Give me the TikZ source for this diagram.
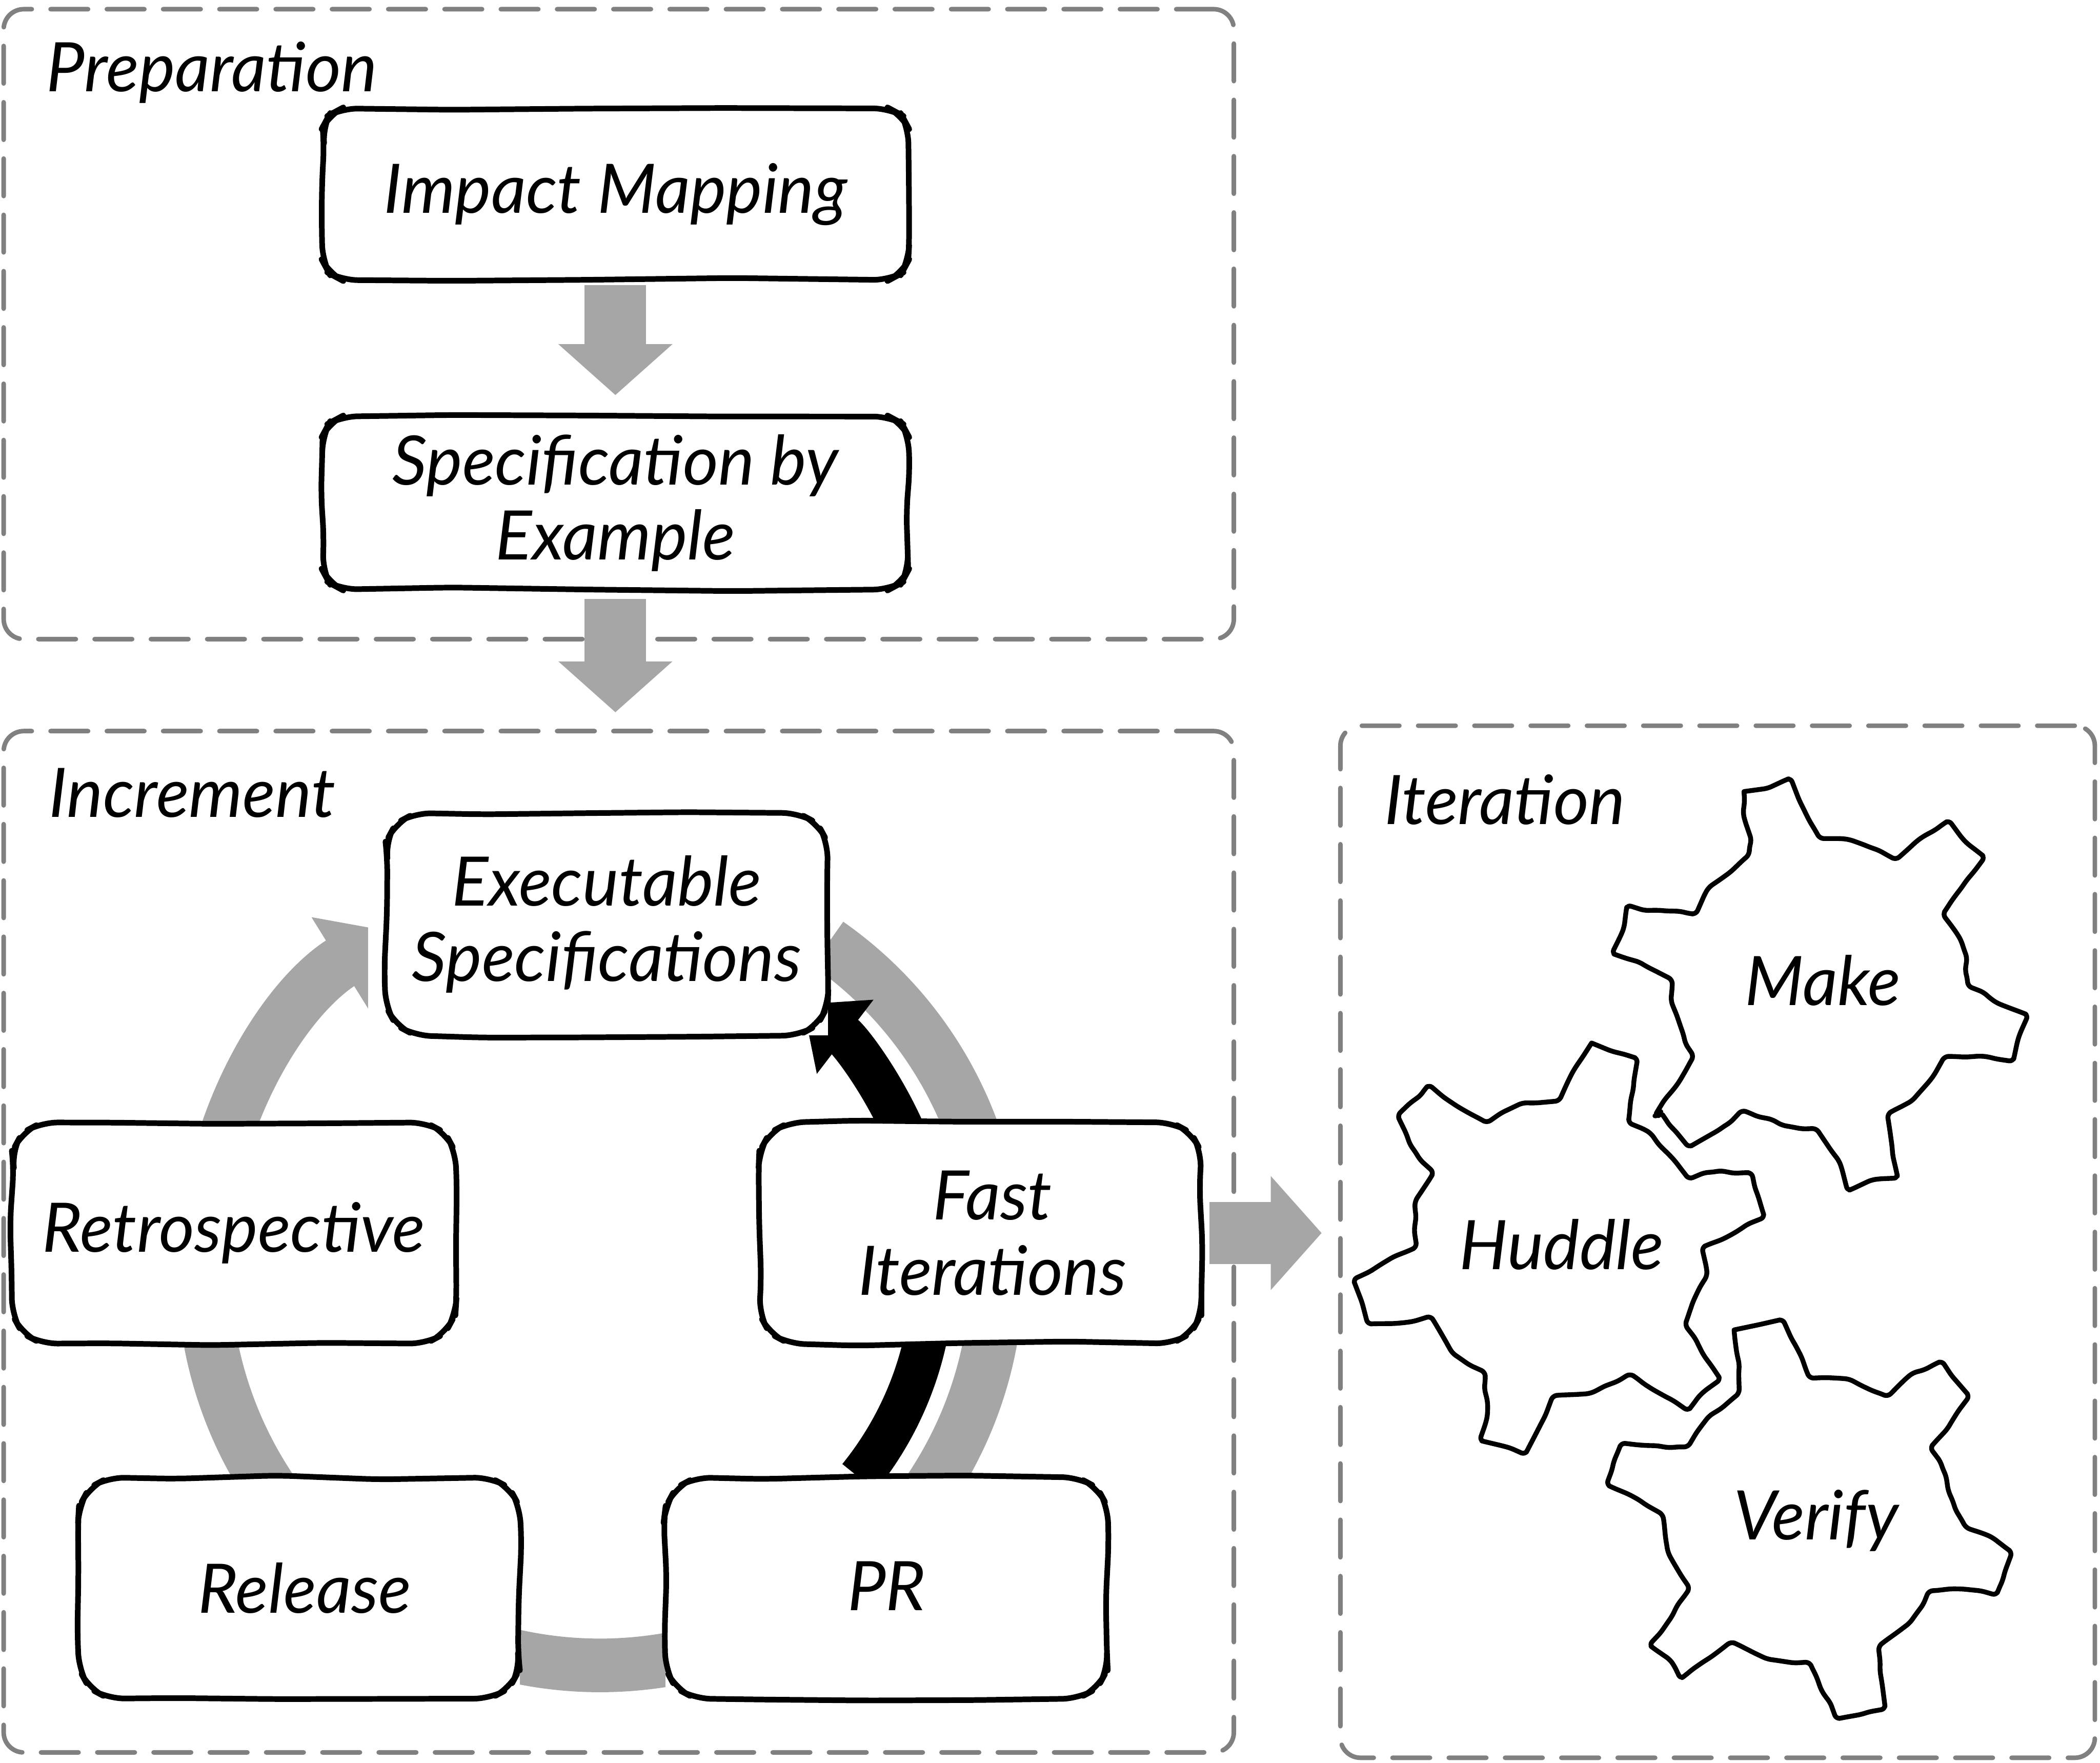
\documentclass[tikz,border=0pt]{standalone}
\usepackage{fontspec}
\setmainfont{Lato}
\usetikzlibrary{arrows.meta,backgrounds,decorations.pathmorphing,calc}
\definecolor{framegray}{HTML}{808080}
\definecolor{flowgray}{HTML}{A6A6A6}
\tikzset{
  x=0.01cm,y=-0.01cm,
  sketchbox/.style={fill=white,inner sep=0pt,outer sep=0pt,
    align=center,font=\fontsize{14.5}{16}\selectfont\itshape},
  sketchline/.style={draw=black,line width=.042cm,line join=round,line cap=round,rounded corners=.12cm},
  framebox/.style={draw=framegray,line width=.034cm,rounded corners=.15cm,inner sep=0pt,outer sep=0pt,
    dash pattern=on .28cm off .14cm,line cap=round},
  zonelabel/.style={font=\fontsize{14.5}{16}\selectfont\itshape,inner sep=0pt,anchor=west},
  gearlabel/.style={font=\fontsize{14.5}{16}\selectfont\itshape,inner sep=0pt},
  gearline/.style={draw=black,fill=white,line width=.036cm,line join=round,line cap=round,rounded corners=.03cm,
    decorate,decoration={random steps,segment length=.1cm,amplitude=.012cm}},
  blockflow/.style={draw=flowgray,line width=.46cm,-{Triangle[length=.38cm,width=.83cm,fill=flowgray]}},
  ringflow/.style={draw=flowgray,line width=.4cm,-{Triangle[length=.45cm,width=.78cm,fill=flowgray]}},
  fastflow/.style={draw=black,line width=.32cm,-{Triangle[length=.4cm,width=.67cm,fill=black]}},
  gearscope/.style={shift={(990,535)},x=0.003695cm,y=-0.00499cm},
}
% hand-drawn outline round a named box: #1 node name, #2 corner chamfer in picture units
\newcommand{\sketchoutline}[2]{%
  \draw[sketchline]
    ($(#1.north west)+(#2,0)$)
    -- ($(#1.north west)!.22!(#1.north east)+(0,{1.6*rand})$)
    -- ($(#1.north west)!.45!(#1.north east)+(0,{1.6*rand})$)
    -- ($(#1.north west)!.68!(#1.north east)+(0,{1.6*rand})$)
    -- ($(#1.north east)+(-#2,0)$)
    -- ($(#1.north east)+(-#2*.35,#2*.35)$)
    -- ($(#1.north east)+(0,#2)$)
    -- ($(#1.north east)!.3!(#1.south east)+({1.6*rand},0)$)
    -- ($(#1.north east)!.55!(#1.south east)+({1.6*rand},0)$)
    -- ($(#1.north east)!.8!(#1.south east)+({1.6*rand},0)$)
    -- ($(#1.south east)+(0,-#2)$)
    -- ($(#1.south east)+(-#2*.35,-#2*.35)$)
    -- ($(#1.south east)+(-#2,0)$)
    -- ($(#1.south east)!.3!(#1.south west)+(0,{1.6*rand})$)
    -- ($(#1.south east)!.55!(#1.south west)+(0,{1.6*rand})$)
    -- ($(#1.south east)!.78!(#1.south west)+(0,{1.6*rand})$)
    -- ($(#1.south west)+(#2,0)$)
    -- ($(#1.south west)+(#2*.35,-#2*.35)$)
    -- ($(#1.south west)+(0,-#2)$)
    -- ($(#1.south west)!.3!(#1.north west)+({1.6*rand},0)$)
    -- ($(#1.south west)!.55!(#1.north west)+({1.6*rand},0)$)
    -- ($(#1.south west)!.8!(#1.north west)+({1.6*rand},0)$)
    -- ($(#1.north west)+(0,#2)$)
    -- ($(#1.north west)+(#2*.35,#2*.35)$)
    -- cycle;}
\begin{document}
\begin{tikzpicture}
\pgfmathsetseed{4242}
\useasboundingbox (0,0) rectangle (1568,1316);

\begin{scope}[on background layer]
  \fill[white] (0,0) rectangle (1568,1316);
  \node[framebox,minimum width=9.18cm,minimum height=4.70cm] (preparation) at (462,242) {};
  \node[framebox,minimum width=9.18cm,minimum height=7.62cm] (increment) at (462,927) {};
  \node[framebox,minimum width=5.63cm,minimum height=7.70cm] (iteration) at (1282.5,927) {};
\end{scope}

\node[zonelabel] (preplabel) at (34,54) {Preparation};
\node[zonelabel] (inclabel) at (36,592) {Increment};
\node[zonelabel] (iterlabel) at (1033,597) {Iteration};

\node[sketchbox,minimum width=4.37cm,minimum height=1.28cm] (impact) at (459.5,145) {\raisebox{-.03cm}{Impact Mapping}};
\node[sketchbox,minimum width=4.37cm,minimum height=1.29cm] (spec) at (459.5,375.5) {\raisebox{-.03cm}{Specification by}\\\raisebox{-.03cm}{Example}};
\node[sketchbox,minimum width=3.30cm,minimum height=1.66cm] (exec) at (453,690) {Executable\\Specifications};
\node[sketchbox,minimum width=3.31cm,minimum height=1.65cm] (retro) at (174.5,920.5) {\raisebox{-.03cm}{Retrospective}};
\node[sketchbox,minimum width=3.30cm,minimum height=1.65cm] (fast) at (732,920.5) {\hspace*{.18cm}Fast\\\hspace*{.18cm}Iterations};
\node[sketchbox,minimum width=3.29cm,minimum height=1.65cm] (release) at (223.5,1185.5) {\hspace*{.08cm}Release};
\node[sketchbox,minimum width=3.30cm,minimum height=1.65cm] (pr) at (662,1185.5) {\raisebox{.03cm}{PR}};

\sketchoutline{impact}{14}
\sketchoutline{spec}{14}
\sketchoutline{exec}{22}
\sketchoutline{retro}{22}
\sketchoutline{fast}{22}
\sketchoutline{release}{22}
\sketchoutline{pr}{22}

\begin{scope}[on background layer]
  \draw[blockflow,shorten <=.04cm,shorten >=.16cm] (impact.south) -- (spec.north);
  \draw[blockflow,shorten <=.07cm,shorten >=.14cm] (spec.south) -- (increment.north -| spec.south);
  \draw[blockflow,shorten <=.06cm,shorten >=.14cm] (fast.east) -- (fast.east -| iteration.west);
  \draw[ringflow] (exec.-5.4) arc[start angle=55,end angle=-238.2,radius=2.96cm];
  \fill[white] ($(exec.west)+(-13,-60)$) rectangle ($(exec.west)+(0,80)$);
  \draw[fastflow] (pr.104) arc[start angle=-39,end angle=52.6,radius=2.48cm];
\end{scope}

\begin{scope}[gearscope]
  \draw[gearline] (845,112)--(885,108)--(935,93)--(960,130)--(995,178)--(1050,183)--(1110,198)--(1147,212)--(1200,183)--(1255,157)--(1290,185)--(1328,208)--(1290,250)--(1270,270)--(1250,292)--(1280,330)--(1293,355)--(1297,398)--(1350,425)--(1415,445)--(1400,480)--(1390,512)--(1330,508)--(1257,508)--(1225,540)--(1190,570)--(1140,592)--(1145,650)--(1155,687)--(1110,692)--(1058,708)--(1040,670)--(995,620)--(930,612)--(847,590)--(800,615)--(738,642)--(700,615)--(680,595)--(665,597)--(710,550)--(740,512)--(720,470)--(700,430)--(700,398)--(640,370)--(582,355)--(600,320)--(608,285)--(680,290)--(742,295)--(770,260)--(850,210)--(858,190)--(845,150)--(845,112);
  \draw[gearline] (537,488)--(570,498)--(625,510)--(622,550)--(612,603)--(650,620)--(700,660)--(730,688)--(790,680)--(855,682)--(870,710)--(885,745)--(830,770)--(765,792)--(770,830)--(745,870)--(728,905)--(760,950)--(795,988)--(760,1012)--(735,1035)--(695,1020)--(620,985)--(540,1010)--(465,1015)--(440,1050)--(405,1100)--(365,1092)--(315,1083)--(325,1050)--(322,985)--(262,955)--(215,900)--(170,905)--(90,908)--(70,870)--(57,845)--(105,822)--(178,795)--(180,730)--(215,685)--(175,645)--(147,600)--(205,553)--(260,580)--(320,605)--(390,580)--(465,575)--(500,530)--(537,488);
  \draw[gearline] (825,917)--(870,910)--(918,902)--(945,935)--(975,985)--(1050,990)--(1130,1015)--(1180,985)--(1240,965)--(1270,990)--(1297,1013)--(1260,1060)--(1225,1090)--(1250,1130)--(1270,1180)--(1290,1208)--(1340,1225)--(1382,1247)--(1370,1285)--(1357,1310)--(1295,1305)--(1225,1307)--(1185,1350)--(1122,1387)--(1120,1420)--(1130,1480)--(1090,1490)--(1037,1498)--(1005,1460)--(980,1418)--(900,1410)--(825,1385)--(770,1410)--(720,1437)--(700,1415)--(657,1390)--(695,1350)--(732,1307)--(695,1255)--(682,1198)--(640,1175)--(572,1150)--(580,1120)--(595,1090)--(660,1090)--(725,1092)--(770,1050)--(830,1015)--(835,975)--(825,917);
\end{scope}
\node[gearlabel] (make) at (1361,732) {Make};
\node[gearlabel] (huddle) at (1166,929) {Huddle};
\node[gearlabel] (verify) at (1356,1135) {Verify};
\end{tikzpicture}
\end{document}
